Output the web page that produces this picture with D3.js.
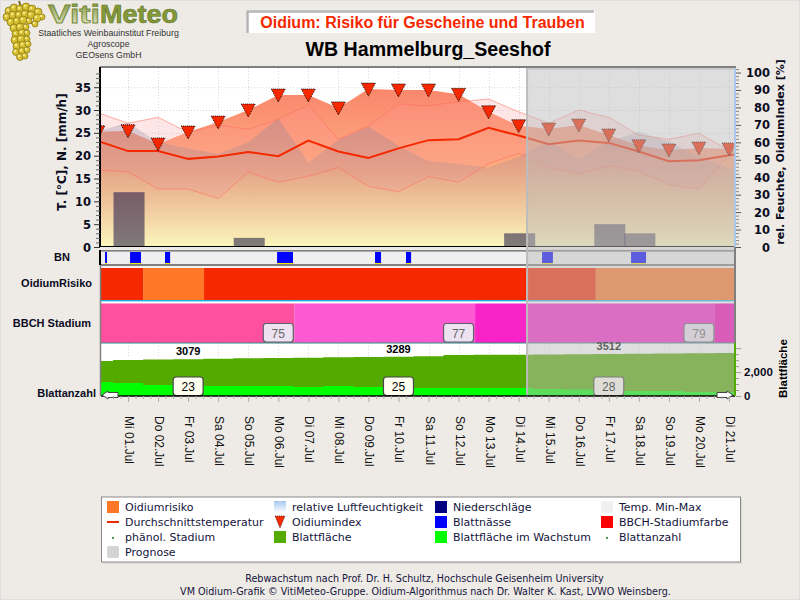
<!DOCTYPE html>
<html lang="de">
<head>
<meta charset="utf-8">
<title>VitiMeteo Oidium</title>
<script src="https://cdn.jsdelivr.net/npm/d3@7/dist/d3.min.js"></script>
<style>
  html, body { margin: 0; padding: 0; background: #eeebe6; }
  svg { display: block; }
  text { font-family: "Liberation Sans", Arial, sans-serif; }
</style>
</head>
<body>
<svg id="chart" width="800" height="600"></svg>
<script>
// Daily series; index 0 is the day before the first label, the last entry the day after the final one.
const seriesDays = d3.range(0, 23);
const labelDays = d3.range(1, 22);
const dayLabels = ["Mi 01.Jul","Do 02.Jul","Fr 03.Jul","Sa 04.Jul","So 05.Jul","Mo 06.Jul","Di 07.Jul",
  "Mi 08.Jul","Do 09.Jul","Fr 10.Jul","Sa 11.Jul","So 12.Jul","Mo 13.Jul","Di 14.Jul","Mi 15.Jul",
  "Do 16.Jul","Fr 17.Jul","Sa 18.Jul","So 19.Jul","Mo 20.Jul","Di 21.Jul"];

const tempAvg = [23.2,21,21,19.3,19.8,20.8,19.9,23.3,20.9,19.5,21.6,23.4,23.6,26.1,24.4,22.5,23.3,22.8,20.9,18.8,19,20.1,21];
const tempMax = [29.4,27.1,28.4,25.1,26.7,25.8,28,31.1,23.6,26.5,31.3,30.9,31.8,32.4,29.6,27.1,30,28.4,24.5,23.6,24.9,21.2,20];
const tempMin = [16.8,16.5,12.7,12.7,10.6,16.4,14.2,15.5,17.4,13.3,12.1,15.4,14.2,18.3,20.5,17.4,16,17.8,16.6,13.6,12.7,20.1,21];
const humidity = [66.5,71.4,60,56.5,53.3,60,73.7,48.5,61.3,69,58,49.3,47.6,45.5,51.8,60.4,50.4,60.4,66.1,60.4,51.8,45.1,40];
const oidiumIndex = [66,66.6,59,65.9,71.6,78.5,87.1,87.1,79.7,90.5,90,90,87.5,77.5,69.5,67.6,69.9,64.2,58,55.6,56.7,56.2,56];

const rainDays = [1, 5, 14, 17, 18];
const rainValues = [12, 2, 3, 5, 3];

// Periods of leaf wetness, as [start, end] in fractional days.
const wetSpans = [[0.235,0.3],[1.067,1.43],[2.23,2.4],[5.96,6.49],[9.22,9.42],[10.25,10.42],[14.78,15.14],[17.74,18.24]];

const riskBreaks = [0, 1.5, 3.53, 16.57, 22];
const riskColors = ["#f52800", "#ff7828", "#f52800", "#ff7828"];
const bbchBreaks = [0, 6.54, 12.55, 20.53, 22];
const bbchColors = ["#ff50a0", "#fb5ad2", "#f824c8", "#f301b5"];

const stageDays = [6, 12, 20];
const stageValues = [75, 77, 79];

const leafArea = [2926,3010,3050,3079,3110,3150,3170,3190,3236,3260,3289,3320,3428,3440,3450,3460,3490,3512,3540,3560,3580,3600,3620];
const leafGrowth = [1170,1087,920,920,836,836,836,753,836,753,669,669,669,669,669,585,540,540,418,418,334,334,334];
const leafLabelDays = [3, 10, 17];
const leafCountDays = [3, 10, 17];
const leafCountValues = [23, 25, 28];

const forecastFrom = 14.28;
const tempTicks = [0,5,10,15,20,25,30,35];
const pctTicks = [0,10,20,30,40,50,60,70,80,90,100];

const legendColumns = [107, 274, 435, 601];
const legendRows = [507, 522, 537, 552];
const legendItems = [
  [0,0,"Oidiumrisiko","rect","#ff7828"], [0,1,"Durchschnittstemperatur","line","#f52800"],
  [0,2,"phänol. Stadium","dot","#4a9a5a"], [0,3,"Prognose","round","#d4d4d4"],
  [1,0,"relative Luftfeuchtigkeit","hum",""], [1,1,"Oidiumindex","tri","#f52800"], [1,2,"Blattfläche","rect","#54ab00"],
  [2,0,"Niederschläge","rect","#000080"], [2,1,"Blattnässe","rect","#0000ff"], [2,2,"Blattfläche im Wachstum","rect","#00ff00"],
  [3,0,"Temp. Min-Max","round","#f0f0f0"], [3,1,"BBCH-Stadiumfarbe","rect","#ff0000"], [3,2,"Blattanzahl","dot","#4a9a5a"]
];

// Layout of the stacked panels.
const plotLeft = 101, plotRight = 735, plotTop = 68, base = 247;
const bnTop = 250, bnBottom = 265, riskTop = 268, riskBottom = 300, bbchTop = 303.5, bbchBottom = 343, leafBottom = 396;
const navy = "#0b0b1e";

const svg = d3.select("#chart");
const defs = svg.append("defs");

const x = d3.scaleLinear().domain([0.1, 21.2]).range([plotLeft, plotRight]);
const yTemp = d3.scaleLinear().domain([0, 39.2]).range([base, plotTop]);
const yPct = d3.scaleLinear().domain([0, 102.6]).range([base, plotTop]);
const yLeaf = d3.scaleLinear().domain([0, 4431]).range([leafBottom, bbchBottom]);

function vGradient(id, y1, y2, stops) {
  const g = defs.append("linearGradient").attr("id", id).attr("gradientUnits", "userSpaceOnUse")
    .attr("x1", 0).attr("x2", 0).attr("y1", y1).attr("y2", y2);
  stops.forEach(s => g.append("stop").attr("offset", s[0]).attr("stop-color", s[1]).attr("stop-opacity", s[2]));
}
vGradient("indexFill", 90, base, [[0, "rgb(250,135,108)", 1], [0.5, "rgb(252,172,128)", 1], [1, "rgb(255,249,189)", 1]]);
vGradient("humFill", 110, base, [[0, "rgb(120,125,160)", 0.3], [1, "rgb(120,125,160)", 0.02]]);
vGradient("vitiFill", 2, 24, [[0, "#7f9440", 1], [1, "#dfe3c0", 1]]);
vGradient("humSwatch", 501, 513, [[0, "#a8c8f0", 1], [1, "#ffffff", 1]]);

defs.append("clipPath").attr("id", "plotClip").append("rect")
  .attr("x", plotLeft).attr("y", plotTop).attr("width", plotRight - plotLeft).attr("height", base - plotTop);
defs.append("clipPath").attr("id", "bandClip").append("rect")
  .attr("x", plotLeft).attr("y", plotTop).attr("width", plotRight - plotLeft).attr("height", leafBottom - plotTop);
defs.append("clipPath").attr("id", "markerClip").append("rect")
  .attr("x", plotLeft).attr("y", plotTop).attr("width", plotRight - plotLeft + 5).attr("height", base - plotTop);

// Outer page edge
svg.append("rect").attr("x", 0.5).attr("y", 0.5).attr("width", 799).attr("height", 599)
  .attr("fill", "none").attr("stroke", "#dfdfdf");

// Logo: grape cluster
const grapeBerries = [[9,11,4],[14,8,4],[20,9,4],[26,7,4],[32,9,4],[38,12,4],[42,17,3],[7,17,4],[13,15,4],[19,15,4],[25,14,4],
  [31,15,4],[37,18,4],[11,22,4],[17,21,4],[23,20,4],[29,21,3],[35,24,3],[14,28,4],[20,27,4],[26,27,3],[16,34,4],[22,33,4],
  [27,33,3],[15,40,4],[21,39,4],[27,39,3],[17,46,4],[23,45,4],[28,44,3],[16,52,3.5],[22,51,3.5],[27,50,3],[20,57,3.5],[25,56,3]];
const logo = svg.append("g");
logo.append("path").attr("d", "M19 1 L21 7 M22 18 C28 24 32 24 38 21").attr("fill", "none").attr("stroke", "#7a6a20").attr("stroke-width", 2);
logo.selectAll("circle.berry").data(grapeBerries).join("circle").attr("class", "berry")
  .attr("cx", d => d[0]).attr("cy", d => d[1]).attr("r", d => d[2])
  .attr("fill", "#d8bf30").attr("stroke", "#8e7c18").attr("stroke-width", 0.8);
logo.selectAll("circle.hl").data(grapeBerries).join("circle").attr("class", "hl")
  .attr("cx", d => d[0] - 1).attr("cy", d => d[1] - 1).attr("r", 1.3).attr("fill", "#f3e88a");
logo.append("text").attr("x", 48).attr("y", 23).attr("font-size", 25).attr("font-weight", "bold")
  .attr("textLength", 52).attr("lengthAdjust", "spacingAndGlyphs")
  .attr("fill", "url(#vitiFill)").attr("stroke", "#76893a").attr("stroke-width", 0.8).text("Viti");
logo.append("text").attr("x", 100).attr("y", 23).attr("font-size", 25).attr("font-weight", "bold")
  .attr("textLength", 78).attr("lengthAdjust", "spacingAndGlyphs")
  .attr("fill", "#83993a").attr("stroke", "#5f7426").attr("stroke-width", 0.6).text("Meteo");
[["Staatliches Weinbauinstitut Freiburg", 36.4], ["Agroscope", 47], ["GEOsens GmbH", 57.5]].forEach(t => {
  logo.append("text").attr("x", 108.5).attr("y", t[1]).attr("text-anchor", "middle")
    .attr("font-size", 8.8).attr("fill", "#333").text(t[0]);
});

// Heading box and station name
svg.append("rect").attr("x", 246).attr("y", 10).attr("width", 349).attr("height", 23).attr("fill", "#fff");
svg.append("path").attr("d", "M247.5 33 V11.5 H594").attr("fill", "none").attr("stroke", "#b4b4b4").attr("stroke-width", 2.5);
svg.append("text").attr("x", 422.5).attr("y", 27.5).attr("text-anchor", "middle")
  .attr("font-size", 16).attr("font-weight", "bold").attr("fill", "#f52800")
  .text("Oidium: Risiko für Gescheine und Trauben");
svg.append("text").attr("x", 428).attr("y", 56).attr("text-anchor", "middle")
  .attr("font-size", 19.6).attr("font-weight", "bold").attr("fill", "#000")
  .text("WB Hammelburg_Seeshof");

// Main panel background and grid
svg.append("rect").attr("x", plotLeft).attr("y", plotTop).attr("width", plotRight - plotLeft).attr("height", base - plotTop).attr("fill", "#fff");
const grid = svg.append("g").attr("stroke", "#d9d9d9").attr("stroke-dasharray", "1,2");
grid.selectAll("line.h").data(tempTicks.slice(1)).join("line").attr("class", "h")
  .attr("x1", plotLeft).attr("x2", plotRight).attr("y1", d => yTemp(d) + 0.5).attr("y2", d => yTemp(d) + 0.5);
grid.selectAll("line.v").data(labelDays).join("line").attr("class", "v")
  .attr("x1", d => Math.round(x(d)) + 0.5).attr("x2", d => Math.round(x(d)) + 0.5).attr("y1", plotTop).attr("y2", base);

// Main panel areas and lines
const plot = svg.append("g").attr("clip-path", "url(#plotClip)");
const xAt = (d, i) => x(seriesDays[i]);
plot.append("path").datum(oidiumIndex).attr("fill", "url(#indexFill)")
  .attr("d", d3.area().x(xAt).y0(base).y1(d => yPct(d)));
plot.append("path").datum(tempMax).attr("fill", "rgba(255,150,150,0.24)")
  .attr("d", d3.area().x(xAt).y0((d, i) => yTemp(tempMin[i])).y1(d => yTemp(d)));
plot.append("path").datum(humidity).attr("fill", "url(#humFill)")
  .attr("d", d3.area().x(xAt).y0(base).y1(d => yPct(d)));
[tempMax, tempMin].forEach(s => {
  plot.append("path").datum(s).attr("fill", "none").attr("stroke", "rgba(255,110,95,0.55)").attr("stroke-width", 1)
    .attr("d", d3.line().x(xAt).y(d => yTemp(d)));
});

// Precipitation columns
plot.selectAll("rect.rain").data(rainValues).join("rect").attr("class", "rain")
  .attr("x", (d, i) => x(rainDays[i]) - 14.5).attr("width", 31)
  .attr("y", d => yTemp(d)).attr("height", d => base - yTemp(d))
  .attr("fill", "rgba(3,0,57,0.5)");
svg.append("line").attr("x1", plotLeft).attr("x2", plotRight).attr("y1", base - 0.5).attr("y2", base - 0.5).attr("stroke", "#000");

// Mean temperature
plot.append("path").datum(tempAvg).attr("fill", "none").attr("stroke", "#f52800").attr("stroke-width", 2)
  .attr("d", d3.line().x(xAt).y(d => yTemp(d)));

// Oidium index markers
const tri = svg.append("g").attr("clip-path", "url(#markerClip)");
tri.selectAll("path").data(oidiumIndex.slice(0, 22)).join("path")
  .attr("transform", (d, i) => `translate(${x(seriesDays[i])},${yPct(d)})`)
  .attr("d", "M-7,-6 H7 L0,7 Z")
  .attr("fill", "#f52800").attr("stroke", "#000").attr("stroke-width", 0.9).attr("stroke-dasharray", "1,1");

// Leaf wetness strip
svg.append("rect").attr("x", plotLeft).attr("y", bnTop).attr("width", plotRight - plotLeft).attr("height", bnBottom - bnTop).attr("fill", "#efefef");
const wet = svg.append("g");
wet.selectAll("rect.blue").data(wetSpans).join("rect").attr("class", "blue")
  .attr("x", d => x(d[0])).attr("width", d => x(d[1]) - x(d[0])).attr("y", bnTop + 2).attr("height", 11.5).attr("fill", "#0000ff");
wet.selectAll("rect.yellow").data(wetSpans).join("rect").attr("class", "yellow")
  .attr("x", d => x(d[0])).attr("width", d => x(d[1]) - x(d[0])).attr("y", bnTop + 13).attr("height", 1).attr("fill", "#f5e800");
svg.append("rect").attr("x", plotLeft).attr("y", bnTop).attr("width", plotRight - plotLeft).attr("height", 1.6).attr("fill", "#808080");
svg.append("rect").attr("x", plotLeft).attr("y", bnBottom - 1).attr("width", plotRight - plotLeft).attr("height", 2).attr("fill", "#808080");
svg.append("rect").attr("x", plotLeft).attr("y", bnBottom + 1).attr("width", plotRight - plotLeft).attr("height", riskTop - bnBottom - 1).attr("fill", "#f4f4f4");

// Risk band
svg.append("g").attr("clip-path", "url(#bandClip)").selectAll("rect").data(riskColors).join("rect")
  .attr("x", (d, i) => x(riskBreaks[i])).attr("width", (d, i) => x(riskBreaks[i + 1]) - x(riskBreaks[i]))
  .attr("y", riskTop).attr("height", riskBottom - riskTop).attr("fill", d => d);
svg.append("rect").attr("x", plotLeft).attr("y", riskBottom).attr("width", plotRight - plotLeft).attr("height", bbchTop - riskBottom).attr("fill", "#fff");
svg.append("rect").attr("x", plotLeft).attr("y", riskBottom).attr("width", plotRight - plotLeft).attr("height", 1.4).attr("fill", "#18b4e0");

// Growth stage band
svg.append("g").attr("clip-path", "url(#bandClip)").selectAll("rect").data(bbchColors).join("rect")
  .attr("x", (d, i) => x(bbchBreaks[i])).attr("width", (d, i) => x(bbchBreaks[i + 1]) - x(bbchBreaks[i]))
  .attr("y", bbchTop).attr("height", bbchBottom - bbchTop).attr("fill", d => d);

function valueBox(layer, cx, yTop, value, fill, stroke, color) {
  layer.append("rect").attr("x", cx - 15).attr("y", yTop).attr("width", 30).attr("height", 18.5)
    .attr("rx", 3).attr("fill", fill).attr("stroke", stroke).attr("stroke-width", 1.2);
  layer.append("text").attr("x", cx).attr("y", yTop + 14).attr("text-anchor", "middle")
    .attr("font-size", 12).attr("fill", color).text(value);
}
const stageLayer = svg.append("g");
stageDays.forEach((d, i) => valueBox(stageLayer, x(d), 323.5, stageValues[i], "#ece2f0", "#60606c", "#666"));

// Leaf area panel
svg.append("rect").attr("x", plotLeft).attr("y", bbchBottom).attr("width", plotRight - plotLeft).attr("height", leafBottom - bbchBottom).attr("fill", "#fff");
svg.append("g").attr("stroke", "#d9d9d9").attr("stroke-dasharray", "1,2")
  .selectAll("line").data(labelDays).join("line")
  .attr("x1", d => Math.round(x(d)) + 0.5).attr("x2", d => Math.round(x(d)) + 0.5).attr("y1", bbchBottom).attr("y2", 358);
svg.append("rect").attr("x", plotLeft).attr("y", bbchBottom - 0.5).attr("width", plotRight - plotLeft).attr("height", 1).attr("fill", "#2a9080");
const leafPlot = svg.append("g").attr("clip-path", "url(#bandClip)");
leafPlot.append("path").datum(leafArea).attr("fill", "#54ab00")
  .attr("d", d3.area().curve(d3.curveStep).x(xAt).y0(leafBottom).y1(d => yLeaf(d)));
leafPlot.append("path").datum(leafGrowth).attr("fill", "#00ff00")
  .attr("d", d3.area().curve(d3.curveStep).x(xAt).y0(leafBottom).y1(d => yLeaf(d)));
svg.selectAll("text.leaf").data(leafLabelDays).join("text").attr("class", "leaf")
  .attr("x", d => x(d)).attr("y", d => yLeaf(leafArea[d]) - 4).attr("text-anchor", "middle")
  .attr("font-size", 11).attr("font-weight", "bold").attr("fill", "#000").text(d => leafArea[d]);
const countLayer = svg.append("g");
leafCountDays.forEach((d, i) => valueBox(countLayer, x(d), 377, leafCountValues[i], "#fffff0", "#444", "#000"));

// Forecast veil
svg.append("rect").attr("x", x(forecastFrom)).attr("y", plotTop).attr("width", plotRight - x(forecastFrom)).attr("height", leafBottom - plotTop)
  .attr("fill", "rgba(187,187,187,0.49)");
svg.append("line").attr("x1", x(forecastFrom)).attr("x2", x(forecastFrom)).attr("y1", plotTop).attr("y2", leafBottom)
  .attr("stroke", "#bcbcbc").attr("stroke-width", 2);
svg.append("line").attr("x1", x(forecastFrom)).attr("x2", plotRight).attr("y1", plotTop + 1).attr("y2", plotTop + 1)
  .attr("stroke", "#c4c4c4").attr("stroke-width", 1.5);

// Baseline of the lower panels and panel frame
svg.append("line").attr("x1", plotLeft).attr("x2", plotRight).attr("y1", leafBottom).attr("y2", leafBottom).attr("stroke", "#000").attr("stroke-width", 1.4);
svg.append("line").attr("x1", plotLeft - 1).attr("x2", plotRight + 1).attr("y1", plotTop - 1).attr("y2", plotTop - 1).attr("stroke", "#808080").attr("stroke-width", 2);
svg.append("line").attr("x1", plotLeft - 0.5).attr("x2", plotLeft - 0.5).attr("y1", bnBottom).attr("y2", leafBottom).attr("stroke", "#808080").attr("stroke-width", 1.5);
svg.append("line").attr("x1", plotRight).attr("x2", plotRight).attr("y1", bnTop - 3).attr("y2", bbchBottom).attr("stroke", "#808080").attr("stroke-width", 2);
svg.append("line").attr("x1", plotRight).attr("x2", plotRight).attr("y1", bbchBottom).attr("y2", leafBottom).attr("stroke", "#54ab00").attr("stroke-width", 2);
svg.append("line").attr("x1", plotRight).attr("x2", plotRight).attr("y1", plotTop).attr("y2", base).attr("stroke", "#a8c8f0").attr("stroke-width", 2);
svg.append("line").attr("x1", plotLeft - 1).attr("x2", plotLeft - 1).attr("y1", bnTop).attr("y2", bnBottom).attr("stroke", "#000").attr("stroke-width", 2);

// Scroll arrows on the time axis
svg.selectAll("path.arrow").data([[102, 1], [733, -1]]).join("path").attr("class", "arrow")
  .attr("transform", d => `translate(${d[0]},395) scale(${d[1]},1)`)
  .attr("d", "M0,0 L6,-4 V-2.5 H16 V2.5 H6 V4 Z")
  .attr("fill", "#fff").attr("stroke", "#444").attr("stroke-width", 1);

// Value axes
const leftAxis = svg.append("g").attr("transform", `translate(${plotLeft - 1},0)`)
  .call(d3.axisLeft(yTemp).tickValues(d3.range(0, 39)).tickSize(0).tickFormat(""));
leftAxis.select(".domain").attr("stroke", "#000").attr("stroke-width", 2).attr("d", `M0,${plotTop - 1}V${base}`);
leftAxis.selectAll(".tick line").attr("x2", d => d % 5 === 0 ? -6 : -4).attr("stroke", d => d % 5 === 0 ? "#333" : "#666");
svg.selectAll("text.ytemp").data(tempTicks).join("text").attr("class", "ytemp")
  .attr("x", 91).attr("y", d => yTemp(d) + 4.5).attr("text-anchor", "end")
  .style("font-family", "'DejaVu Sans'").attr("font-size", 11.5).attr("font-weight", "bold").attr("fill", navy).text(d => d);

const rightAxis = svg.append("g").attr("transform", `translate(${plotRight + 1},0)`)
  .call(d3.axisRight(yPct).tickValues(d3.range(0, 103, 2)).tickSize(0).tickFormat(""));
rightAxis.select(".domain").remove();
rightAxis.selectAll(".tick line").attr("x2", d => d % 10 === 0 ? 5 : 3).attr("stroke", d => d % 10 === 0 ? "#555" : "#888");
svg.selectAll("text.ypct").data(pctTicks).join("text").attr("class", "ypct")
  .attr("x", 770).attr("y", d => yPct(d) + 4.5).attr("text-anchor", "end")
  .style("font-family", "'DejaVu Sans'").attr("font-size", 11.5).attr("font-weight", "bold").attr("fill", navy).text(d => d);

const leafAxis = svg.append("g").attr("transform", `translate(${plotRight + 1},0)`)
  .call(d3.axisRight(yLeaf).tickValues(d3.range(0, 4001, 500)).tickSize(0).tickFormat(""));
leafAxis.select(".domain").remove();
leafAxis.selectAll(".tick line").attr("x2", d => d % 2000 === 0 ? 5 : 3).attr("stroke", "#999");
svg.selectAll("text.yleaf").data([0, 2000]).join("text").attr("class", "yleaf")
  .attr("x", 744).attr("y", d => yLeaf(d) + 4).attr("font-size", 11.5).attr("font-weight", "bold")
  .attr("fill", navy).text(d => d === 0 ? "0" : "2,000");

// Time axis
const timeAxis = svg.append("g").attr("transform", `translate(0,${leafBottom})`)
  .call(d3.axisBottom(x).tickValues(d3.range(0.25, 21.25, 0.25)).tickSize(0).tickFormat(""));
timeAxis.select(".domain").remove();
timeAxis.selectAll(".tick line").attr("y2", d => d % 1 === 0 ? 6 : 3).attr("stroke", "#aaa");
svg.selectAll("text.day").data(dayLabels).join("text").attr("class", "day")
  .attr("transform", (d, i) => `translate(${x(labelDays[i]) - 3},416) rotate(90)`)
  .attr("font-size", 12).attr("fill", "#111").text(d => d);

// Axis titles and row labels
const vTitle = (cx, cy, txt, size) => svg.append("text")
  .attr("transform", `translate(${cx},${cy}) rotate(-90)`).attr("text-anchor", "middle")
  .style("font-family", "'DejaVu Sans'").attr("font-size", size).attr("font-weight", "bold").attr("fill", navy).text(txt);
vTitle(66, 152, "T. [°C], N. [mm/h]", 12);
vTitle(784, 152, "rel. Feuchte, OidiumIndex [%]", 11);
svg.append("text").attr("transform", "translate(787,398) rotate(-90)")
  .attr("font-size", 11.5).attr("font-weight", "bold").attr("fill", "#000").text("Blattfläche");

[["BN", 62, 261, "middle"], ["OidiumRisiko", 92, 287, "end"], ["BBCH Stadium", 91, 327, "end"], ["Blattanzahl", 96, 397, "end"]].forEach(r => {
  svg.append("text").attr("x", r[1]).attr("y", r[2]).attr("text-anchor", r[3])
    .attr("font-size", 11).attr("font-weight", "bold").attr("fill", navy).text(r[0]);
});

// Legend
svg.append("rect").attr("x", 103).attr("y", 499).attr("width", 639).attr("height", 65).attr("fill", "#dcdad5");
svg.append("rect").attr("x", 101.5).attr("y", 497).attr("width", 639).attr("height", 65).attr("fill", "#fff").attr("stroke", "#8a8a8a");
legendItems.forEach(it => {
  const lx = legendColumns[it[0]], ly = legendRows[it[1]], g = svg.append("g");
  if (it[3] === "rect") g.append("rect").attr("x", lx).attr("y", ly - 6).attr("width", 12).attr("height", 12).attr("fill", it[4]);
  if (it[3] === "round") g.append("rect").attr("x", lx).attr("y", ly - 6).attr("width", 12).attr("height", 12).attr("rx", 2).attr("fill", it[4]);
  if (it[3] === "line") g.append("line").attr("x1", lx).attr("x2", lx + 12).attr("y1", ly).attr("y2", ly).attr("stroke", it[4]).attr("stroke-width", 2);
  if (it[3] === "dot") g.append("rect").attr("x", lx + 5).attr("y", ly).attr("width", 2).attr("height", 2).attr("fill", it[4]);
  if (it[3] === "hum") g.append("rect").attr("x", lx).attr("y", ly - 6).attr("width", 12).attr("height", 12).attr("fill", "url(#humSwatch)");
  if (it[3] === "tri") g.append("path").attr("transform", `translate(${lx + 6},${ly})`).attr("d", "M-5,-6 H5 L0,6 Z")
    .attr("fill", it[4]).attr("stroke", "#333").attr("stroke-width", 0.8).attr("stroke-dasharray", "1,1");
  g.append("text").attr("x", lx + 18).attr("y", ly + 4).style("font-family", "'DejaVu Sans'").attr("font-size", 11)
    .attr("fill", "#14143c").text(it[2]);
});

// Credits
svg.append("text").attr("x", 424.5).attr("y", 582).attr("text-anchor", "middle").style("font-family", "'DejaVu Sans'")
  .attr("font-size", 9.6).attr("fill", "#14143c").text("Rebwachstum nach Prof. Dr. H. Schultz, Hochschule Geisenheim University");
svg.append("text").attr("x", 425.5).attr("y", 595).attr("text-anchor", "middle").style("font-family", "'DejaVu Sans'")
  .attr("font-size", 9.6).attr("fill", "#14143c").text("VM Oidium-Grafik © VitiMeteo-Gruppe. Oidium-Algorithmus nach Dr. Walter K. Kast, LVWO Weinsberg.");
</script>
</body>
</html>
